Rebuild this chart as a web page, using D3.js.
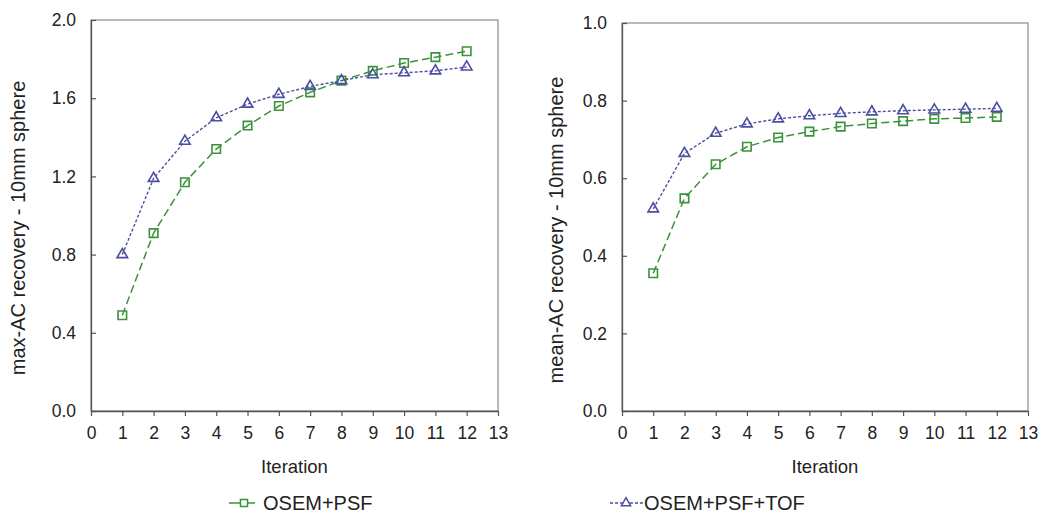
<!DOCTYPE html>
<html>
<head>
<meta charset="utf-8">
<script src="https://cdn.jsdelivr.net/npm/d3@7"></script>
<style>
  html, body { margin: 0; padding: 0; background: #fff; }
  svg { display: block; font-family: "Liberation Sans", Arial, sans-serif; }
</style>
</head>
<body>
<svg id="chart" width="1039" height="513"></svg>
<script>
// ---- data ----
const iterations = [1, 2, 3, 4, 5, 6, 7, 8, 9, 10, 11, 12];
const maxPSF    = [0.49, 0.91, 1.17, 1.34, 1.46, 1.56, 1.63, 1.69, 1.74, 1.78, 1.81, 1.84];
const maxPSFTOF = [0.80, 1.19, 1.38, 1.50, 1.57, 1.62, 1.66, 1.69, 1.72, 1.73, 1.74, 1.76];
const meanPSF    = [0.355, 0.548, 0.636, 0.681, 0.705, 0.720, 0.733, 0.741, 0.747, 0.753, 0.755, 0.758];
const meanPSFTOF = [0.521, 0.664, 0.716, 0.740, 0.753, 0.761, 0.767, 0.771, 0.774, 0.776, 0.778, 0.780];
const xTickValues = [0, 1, 2, 3, 4, 5, 6, 7, 8, 9, 10, 11, 12, 13];
const yTicksMax  = [0, 0.4, 0.8, 1.2, 1.6, 2.0];
const yTicksMean = [0, 0.2, 0.4, 0.6, 0.8, 1.0];
const seriesNames = ["OSEM+PSF", "OSEM+PSF+TOF"];
const xTitle = "Iteration";
const yTitles = ["max-AC recovery - 10mm sphere", "mean-AC recovery - 10mm sphere"];

// ---- styles ----
const GREEN = "#3b923b";
const PURPLE = "#4d4da3";
const FRAME = "#8a8a8a";
const AXIS = "#555";
const TXT = "#222";

const svg = d3.select("#chart");

const symSquare = d3.symbol().type(d3.symbolSquare);
const symTri = d3.symbol().type(d3.symbolTriangle);

function panel(cfg) {
  const x = d3.scaleLinear().domain([0, 13]).range([cfg.x0, cfg.x1]);
  const y = d3.scaleLinear().domain(cfg.yDomain).range([cfg.yBottom, cfg.yTop]);
  const g = svg.append("g");

  // frame
  g.append("rect")
    .attr("x", cfg.x0).attr("y", cfg.yTop)
    .attr("width", cfg.x1 - cfg.x0).attr("height", cfg.yBottom - cfg.yTop)
    .attr("fill", "none").attr("stroke", FRAME).attr("stroke-width", 1.2);

  // x axis
  const xa = g.append("g").attr("transform", `translate(0,${cfg.yBottom})`)
    .call(d3.axisBottom(x).tickValues(xTickValues).tickFormat(d3.format("d"))
      .tickSizeInner(5).tickSizeOuter(0).tickPadding(11));
  xa.select(".domain").attr("stroke", AXIS).attr("stroke-width", 1.3);
  xa.selectAll(".tick line").attr("stroke", AXIS).attr("stroke-width", 1.2);
  xa.selectAll(".tick text").attr("fill", TXT).style("font-size", "17.5px");

  // y axis (ticks inward)
  const ya = g.append("g").attr("transform", `translate(${cfg.x0},0)`)
    .call(d3.axisLeft(y).tickValues(cfg.yTicks).tickFormat(d3.format(".1f"))
      .tickSizeInner(-5).tickSizeOuter(0).tickPadding(15));
  ya.select(".domain").attr("stroke", AXIS).attr("stroke-width", 1.3);
  ya.selectAll(".tick line").attr("stroke", AXIS).attr("stroke-width", 1.2);
  ya.selectAll(".tick text").attr("fill", TXT).style("font-size", "17.5px");

  // titles
  g.append("text")
    .attr("x", (cfg.x0 + cfg.x1) / 2).attr("y", 473)
    .attr("text-anchor", "middle").attr("fill", TXT)
    .style("font-size", "18.5px").text(xTitle);
  g.append("text")
    .attr("transform", `translate(${cfg.yTitleX},${cfg.yTitleY}) rotate(-90)`)
    .attr("text-anchor", "middle").attr("dy", "0.35em").attr("fill", TXT)
    .style("font-size", "20px").text(cfg.yTitle);

  const line = d3.line().x((d, i) => x(iterations[i])).y(d => y(d));

  // series 1: OSEM+PSF (green, long dash, squares)
  g.append("path").datum(cfg.s1)
    .attr("d", line).attr("fill", "none")
    .attr("stroke", GREEN).attr("stroke-width", 1.5).attr("stroke-dasharray", "8,4");
  // series 2: OSEM+PSF+TOF (purple, short dash, triangles)
  g.append("path").datum(cfg.s2)
    .attr("d", line).attr("fill", "none")
    .attr("stroke", PURPLE).attr("stroke-width", 1.4).attr("stroke-dasharray", "3,2");

  g.selectAll(".sq").data(cfg.s1).enter().append("path")
    .attr("transform", (d, i) => `translate(${x(iterations[i])},${y(d)})`)
    .attr("d", symSquare.size(72)).attr("fill", "none")
    .attr("stroke", GREEN).attr("stroke-width", 1.6);
  g.selectAll(".tri").data(cfg.s2).enter().append("path")
    .attr("transform", (d, i) => `translate(${x(iterations[i])},${y(d)})`)
    .attr("d", symTri.size(48)).attr("fill", "none")
    .attr("stroke", PURPLE).attr("stroke-width", 1.6);
}

panel({ x0: 91, x1: 498, yTop: 20, yBottom: 411, yDomain: [0, 2], yTicks: yTicksMax,
        yTitle: yTitles[0], yTitleX: 18, yTitleY: 228, s1: maxPSF, s2: maxPSFTOF });
panel({ x0: 622, x1: 1028, yTop: 23, yBottom: 411, yDomain: [0, 1], yTicks: yTicksMean,
        yTitle: yTitles[1], yTitleX: 556, yTitleY: 230, s1: meanPSF, s2: meanPSFTOF });

// ---- legend ----
const legY = 503;
const lg1 = svg.append("g");
lg1.append("line").attr("x1", 229).attr("x2", 255).attr("y1", legY).attr("y2", legY)
  .attr("stroke", GREEN).attr("stroke-width", 1.5);
lg1.append("path").attr("transform", `translate(244,${legY})`)
  .attr("d", symSquare.size(50)).attr("fill", "#fff")
  .attr("stroke", GREEN).attr("stroke-width", 1.5);
lg1.append("text").attr("x", 263).attr("y", legY).attr("dy", "0.35em")
  .attr("fill", TXT).style("font-size", "20px").text(seriesNames[0]);

const lg2 = svg.append("g");
lg2.append("line").attr("x1", 610).attr("x2", 643).attr("y1", legY).attr("y2", legY)
  .attr("stroke", PURPLE).attr("stroke-width", 1.3).attr("stroke-dasharray", "3,2");
lg2.append("path").attr("transform", `translate(626,${legY})`)
  .attr("d", symTri.size(36)).attr("fill", "#fff")
  .attr("stroke", PURPLE).attr("stroke-width", 1.5);
lg2.append("text").attr("x", 644).attr("y", legY).attr("dy", "0.35em")
  .attr("fill", TXT).style("font-size", "20px").text(seriesNames[1]);
</script>
</body>
</html>
